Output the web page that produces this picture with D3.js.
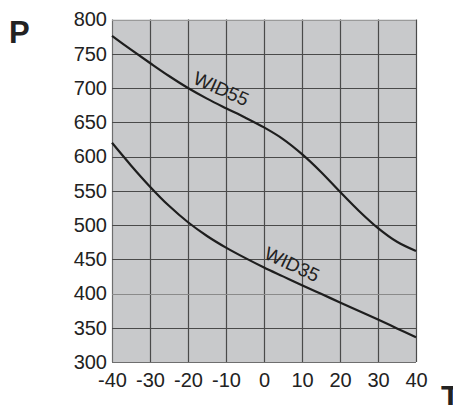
<!DOCTYPE html>
<html><head><meta charset="utf-8">
<script src="https://cdn.jsdelivr.net/npm/d3@7"></script>
<style>body{margin:0;background:#fff}svg{display:block}</style>
</head><body>
<script>
const temps = [-40,-35,-30,-25,-20,-15,-10,-5,0,5,10,15,20,25,30,35,40];
const wid55 = [776,756,736.5,717.5,700,684.5,670.5,657,642.5,625.5,603.5,577.5,548.5,520.5,495.5,475.5,462];
const wid35 = [620,587,556,528,504,484,467,452,438,425,412,399.5,387,374.5,362,349,336];
const xTicks = [-40,-30,-20,-10,0,10,20,30,40];
const yTicks = [300,350,400,450,500,550,600,650,700,750,800];
const seriesNames = ["WID55","WID35"];

const W=453,H=405;
const svg=d3.select("body").append("svg").attr("width",W).attr("height",H);
const x=d3.scaleLinear().domain([-40,40]).range([112,416]);
const y=d3.scaleLinear().domain([300,800]).range([362,19.5]);
const font="'Liberation Sans', Arial, Helvetica, sans-serif";

svg.append("rect").attr("x",x(-40)).attr("y",y(800)).attr("width",x(40)-x(-40)).attr("height",y(300)-y(800)).attr("fill","#c8c9cb");

// grid
svg.append("g").selectAll("line").data(xTicks).join("line")
  .attr("x1",d=>Math.round(x(d))+0.5).attr("x2",d=>Math.round(x(d))+0.5)
  .attr("y1",y(800)).attr("y2",y(300))
  .attr("stroke",d=>d===-40?"#6e6e6e":"#4a4a4a").attr("stroke-width",1.2);
svg.append("g").selectAll("line").data(yTicks).join("line")
  .attr("y1",d=>Math.round(y(d))+0.5).attr("y2",d=>Math.round(y(d))+0.5)
  .attr("x1",x(-40)).attr("x2",x(40))
  .attr("stroke",d=>d===800?"#9a9a9a":(d===400?"#8a8a8a":(d===300?"#6e6e6e":"#4a4a4a"))).attr("stroke-width",1.2);

// axes labels
const xAxis=d3.axisBottom(x).tickValues(xTicks).tickSize(0).tickPadding(11).tickFormat(d3.format("d"));
const gx=svg.append("g").attr("transform",`translate(0,${y(300)})`).call(xAxis);
gx.select(".domain").remove();
gx.selectAll("text").attr("font-family",font).attr("font-size",20).attr("fill","#222").attr("dy","0.71em")
  .text(d=>String(d).replace("−","-"));
const yAxis=d3.axisLeft(y).tickValues(yTicks).tickSize(0).tickPadding(5);
const gy=svg.append("g").attr("transform",`translate(${x(-40)},0)`).call(yAxis);
gy.select(".domain").remove();
gy.selectAll("text").attr("font-family",font).attr("font-size",20).attr("fill","#222");

// curves
const line=d3.line().x((d,i)=>x(temps[i])).y(d=>y(d)).curve(d3.curveCatmullRom.alpha(0.5));
[wid55,wid35].forEach(s=>{
  svg.append("path").attr("d",line(s)).attr("fill","none").attr("stroke","#1e1e1e").attr("stroke-width",2.2);
});

// series labels
svg.append("text").attr("transform","translate(192,83) rotate(24)")
  .attr("font-family",font).attr("font-size",19).attr("fill","#222").text(seriesNames[0]);
svg.append("text").attr("transform","translate(263,258) rotate(25)")
  .attr("font-family",font).attr("font-size",19).attr("fill","#222").text(seriesNames[1]);

// axis titles
svg.append("text").attr("x",9).attr("y",42.5).attr("font-family",font).attr("font-weight","bold").attr("font-size",31).attr("fill","#222").text("P");
svg.append("text").attr("x",441).attr("y",408).attr("font-family",font).attr("font-weight","bold").attr("font-size",31).attr("fill","#222").text("T");
</script>
</body></html>
